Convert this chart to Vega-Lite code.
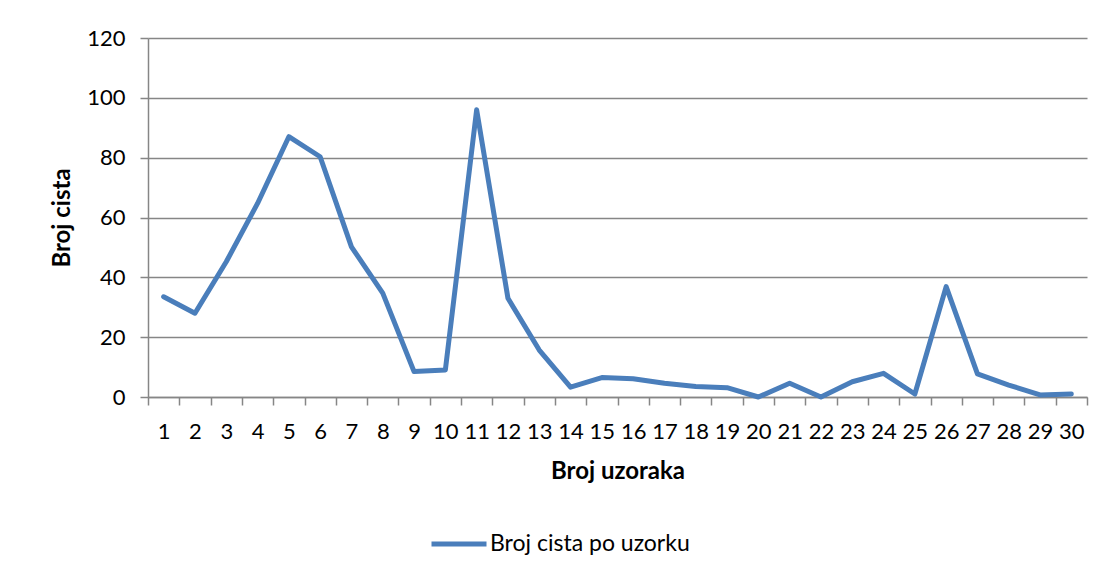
{
  "$schema": "https://vega.github.io/schema/vega-lite/v6.json",
  "autosize": {"type": "none"},
  "width": 939,
  "height": 359,
  "padding": {"left": 148, "top": 38, "right": 25, "bottom": 184},
  "background": "white",
  "config": {
    "view": {"stroke": null},
    "font": "Lato",
    "axis": {
      "labelFont": "Lato",
      "titleFont": "Lato",
      "labelFontSize": 22,
      "titleFontSize": 24,
      "labelColor": "black",
      "titleColor": "black",
      "domainColor": "#868686",
      "tickColor": "#868686",
      "gridColor": "#868686",
      "domainWidth": 1.5,
      "tickWidth": 1.5,
      "gridWidth": 1.5,
      "tickSize": 8
    }
  },
  "data": {
    "values": [
      {"uzorak": 1, "broj": 33.5, "serija": "Broj cista po uzorku"},
      {"uzorak": 2, "broj": 28, "serija": "Broj cista po uzorku"},
      {"uzorak": 3, "broj": 45.2, "serija": "Broj cista po uzorku"},
      {"uzorak": 4, "broj": 64.7, "serija": "Broj cista po uzorku"},
      {"uzorak": 5, "broj": 87, "serija": "Broj cista po uzorku"},
      {"uzorak": 6, "broj": 80.3, "serija": "Broj cista po uzorku"},
      {"uzorak": 7, "broj": 50.2, "serija": "Broj cista po uzorku"},
      {"uzorak": 8, "broj": 34.7, "serija": "Broj cista po uzorku"},
      {"uzorak": 9, "broj": 8.5, "serija": "Broj cista po uzorku"},
      {"uzorak": 10, "broj": 9, "serija": "Broj cista po uzorku"},
      {"uzorak": 11, "broj": 96, "serija": "Broj cista po uzorku"},
      {"uzorak": 12, "broj": 33, "serija": "Broj cista po uzorku"},
      {"uzorak": 13, "broj": 15.7, "serija": "Broj cista po uzorku"},
      {"uzorak": 14, "broj": 3.3, "serija": "Broj cista po uzorku"},
      {"uzorak": 15, "broj": 6.5, "serija": "Broj cista po uzorku"},
      {"uzorak": 16, "broj": 6.1, "serija": "Broj cista po uzorku"},
      {"uzorak": 17, "broj": 4.6, "serija": "Broj cista po uzorku"},
      {"uzorak": 18, "broj": 3.5, "serija": "Broj cista po uzorku"},
      {"uzorak": 19, "broj": 3.1, "serija": "Broj cista po uzorku"},
      {"uzorak": 20, "broj": 0, "serija": "Broj cista po uzorku"},
      {"uzorak": 21, "broj": 4.6, "serija": "Broj cista po uzorku"},
      {"uzorak": 22, "broj": 0, "serija": "Broj cista po uzorku"},
      {"uzorak": 23, "broj": 5.1, "serija": "Broj cista po uzorku"},
      {"uzorak": 24, "broj": 7.9, "serija": "Broj cista po uzorku"},
      {"uzorak": 25, "broj": 1, "serija": "Broj cista po uzorku"},
      {"uzorak": 26, "broj": 36.9, "serija": "Broj cista po uzorku"},
      {"uzorak": 27, "broj": 7.7, "serija": "Broj cista po uzorku"},
      {"uzorak": 28, "broj": 4, "serija": "Broj cista po uzorku"},
      {"uzorak": 29, "broj": 0.7, "serija": "Broj cista po uzorku"},
      {"uzorak": 30, "broj": 1, "serija": "Broj cista po uzorku"}
    ]
  },
  "mark": {"type": "line", "strokeWidth": 5, "strokeJoin": "round", "strokeCap": "round"},
  "encoding": {
    "x": {
      "field": "uzorak",
      "type": "ordinal",
      "scale": {"type": "band", "paddingInner": 0, "paddingOuter": 0},
      "axis": {
        "title": "Broj uzoraka",
        "titleFontWeight": "bold",
        "labelAngle": 0,
        "tickBand": "extent",
        "grid": false,
        "labelPadding": 16,
        "titlePadding": 17
      }
    },
    "y": {
      "field": "broj",
      "type": "quantitative",
      "scale": {"domain": [0, 120], "nice": false},
      "axis": {
        "title": "Broj cista",
        "titleFontWeight": "bold",
        "values": [0, 20, 40, 60, 80, 100, 120],
        "grid": true,
        "labelPadding": 15,
        "titlePadding": 12
      }
    },
    "color": {
      "field": "serija",
      "type": "nominal",
      "scale": {"range": ["#4A7EBB"]},
      "legend": {
        "title": null,
        "orient": "none",
        "legendX": 281,
        "legendY": 476,
        "symbolType": "stroke",
        "symbolSize": 3025,
        "symbolStrokeWidth": 5,
        "labelFont": "Lato",
        "labelFontSize": 23,
        "labelColor": "black",
        "labelOffset": 1,
        "labelLimit": 400
      }
    }
  }
}
